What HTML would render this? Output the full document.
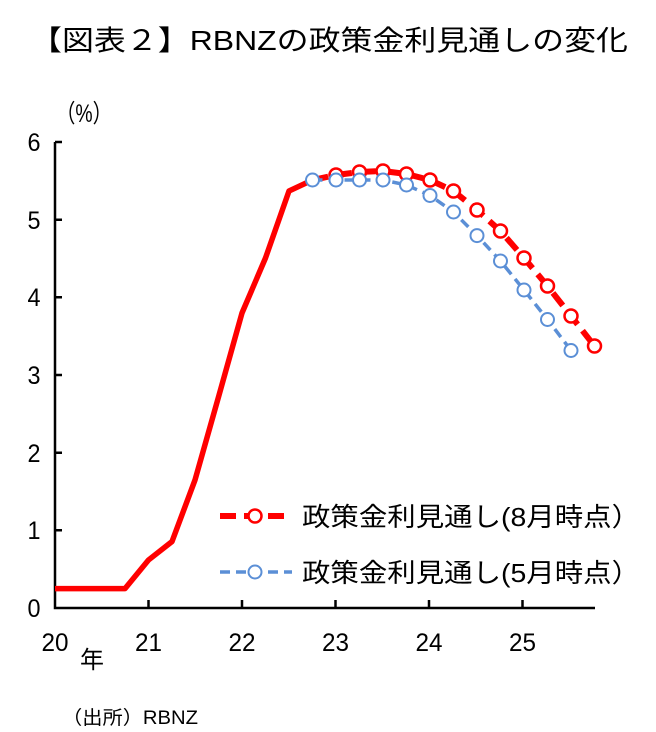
<!DOCTYPE html>
<html><head><meta charset="utf-8"><style>
html,body{margin:0;padding:0;background:#fff;}
svg{display:block;}
text{font-family:"Liberation Sans","Noto Sans CJK JP",sans-serif;fill:#000;}
</style></head><body>
<svg width="656" height="732" viewBox="0 0 656 732" xmlns="http://www.w3.org/2000/svg">
<text x="30" y="50" font-size="28" textLength="598" lengthAdjust="spacingAndGlyphs">【図表２】RBNZの政策金利見通しの変化</text>
<text x="56" y="122" font-size="25" textLength="56" lengthAdjust="spacingAndGlyphs">（%）</text>
<g font-size="25" text-anchor="middle">
<text x="34" y="151" textLength="13" lengthAdjust="spacingAndGlyphs">6</text><text x="34" y="229" textLength="13" lengthAdjust="spacingAndGlyphs">5</text><text x="34" y="306" textLength="13" lengthAdjust="spacingAndGlyphs">4</text>
<text x="34" y="384" textLength="13" lengthAdjust="spacingAndGlyphs">3</text><text x="34" y="462" textLength="13" lengthAdjust="spacingAndGlyphs">2</text><text x="34" y="539" textLength="13" lengthAdjust="spacingAndGlyphs">1</text><text x="34" y="617" textLength="13" lengthAdjust="spacingAndGlyphs">0</text>
<text x="55" y="651" textLength="27" lengthAdjust="spacingAndGlyphs">20</text><text x="148.5" y="651" textLength="27" lengthAdjust="spacingAndGlyphs">21</text><text x="242" y="651" textLength="27" lengthAdjust="spacingAndGlyphs">22</text>
<text x="335.5" y="651" textLength="27" lengthAdjust="spacingAndGlyphs">23</text><text x="429" y="651" textLength="27" lengthAdjust="spacingAndGlyphs">24</text><text x="522.5" y="651" textLength="27" lengthAdjust="spacingAndGlyphs">25</text>
</g>
<text x="80" y="668" font-size="24">年</text>
<text x="62" y="724" font-size="19" textLength="136" lengthAdjust="spacingAndGlyphs">（出所）RBNZ</text>
<g stroke="#000" stroke-width="2.5" fill="none">
<path d="M55,142 V608 H595"/>
<path d="M55,142h7M55,219.7h7M55,297.3h7M55,375h7M55,452.7h7M55,530.3h7"/>
<path d="M148.5,608v-8M242,608v-8M335.5,608v-8M429,608v-8M522.5,608v-8"/>
</g>
<polyline fill="none" stroke="#ff0000" stroke-width="5.5" stroke-linejoin="round" points="55,588.6 125,588.6 148.5,560 172,541.6 195,480 218.5,397 242,313 265.5,258 289,191 312.5,180"/>
<polyline fill="none" stroke="#ff0000" stroke-width="6" stroke-dasharray="16,8" points="312.5,180 336,175 359.5,172 383,171 406.5,174 430,180 453.5,191 477,210 500.5,231 524,258 547.5,286 571,316 594.5,346"/>
<polyline fill="none" stroke="#5b8fd6" stroke-width="3.5" stroke-dasharray="10,6" points="312.5,180 336,180 359.5,180 383,180 406.5,185 430,195.5 453.5,212 477,235.6 500.5,261 524,290 547.5,319.5 571,350.5"/>
<g fill="#fff" stroke="#ff0000" stroke-width="2.5">
<circle cx="336" cy="175" r="6.5"/><circle cx="359.5" cy="172" r="6.5"/><circle cx="383" cy="171" r="6.5"/><circle cx="406.5" cy="174" r="6.5"/><circle cx="430" cy="180" r="6.5"/><circle cx="453.5" cy="191" r="6.5"/><circle cx="477" cy="210" r="6.5"/><circle cx="500.5" cy="231" r="6.5"/><circle cx="524" cy="258" r="6.5"/><circle cx="547.5" cy="286" r="6.5"/><circle cx="571" cy="316" r="6.5"/><circle cx="594.5" cy="346" r="6.5"/>
</g>
<g fill="#fff" stroke="#5b8fd6" stroke-width="2">
<circle cx="312.5" cy="180" r="6.5"/><circle cx="336" cy="180" r="6.5"/><circle cx="359.5" cy="180" r="6.5"/><circle cx="383" cy="180" r="6.5"/><circle cx="406.5" cy="185" r="6.5"/><circle cx="430" cy="195.5" r="6.5"/><circle cx="453.5" cy="212" r="6.5"/><circle cx="477" cy="235.6" r="6.5"/><circle cx="500.5" cy="261" r="6.5"/><circle cx="524" cy="290" r="6.5"/><circle cx="547.5" cy="319.5" r="6.5"/><circle cx="571" cy="350.5" r="6.5"/>
</g>
<path d="M220,516H290" stroke="#ff0000" stroke-width="6" stroke-dasharray="16,8"/>
<circle cx="255" cy="516" r="6.5" fill="#fff" stroke="#ff0000" stroke-width="2.5"/>
<text x="302" y="526" font-size="26" textLength="338" lengthAdjust="spacingAndGlyphs">政策金利見通し(8月時点）</text>
<path d="M220,572H292" stroke="#5b8fd6" stroke-width="3.5" stroke-dasharray="10,6"/>
<circle cx="255" cy="572" r="6.5" fill="#fff" stroke="#5b8fd6" stroke-width="2"/>
<text x="302" y="582" font-size="26" textLength="338" lengthAdjust="spacingAndGlyphs">政策金利見通し(5月時点）</text>
</svg>
</body></html>
